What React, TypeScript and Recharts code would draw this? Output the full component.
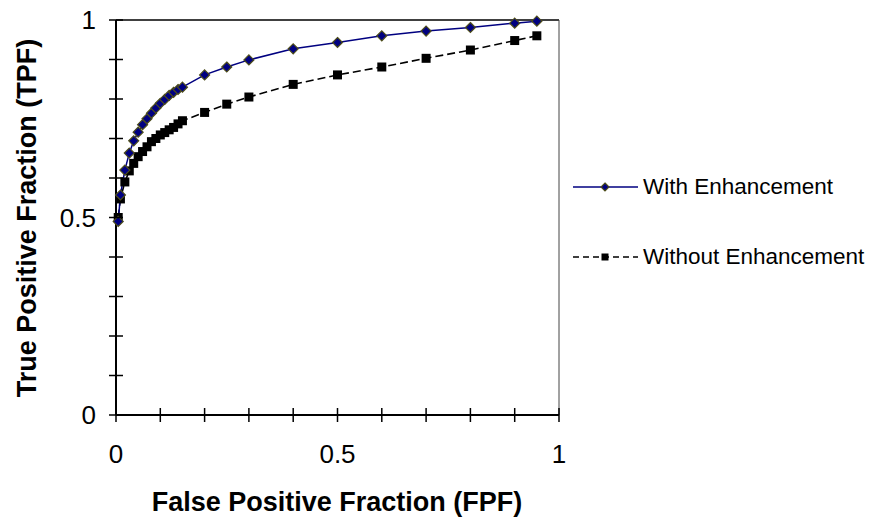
import { LineChart, Line, XAxis, YAxis, ReferenceLine } from "recharts";

// ROC points
const FPF = [
  0.005, 0.01, 0.02, 0.03, 0.04, 0.05, 0.06, 0.07, 0.08, 0.09, 0.1, 0.11, 0.12,
  0.13, 0.14, 0.15, 0.2, 0.25, 0.3, 0.4, 0.5, 0.6, 0.7, 0.8, 0.9, 0.95,
];
const TPF_WITH = [
  0.49, 0.557, 0.62, 0.663, 0.694, 0.716, 0.735, 0.75, 0.764, 0.777, 0.789,
  0.799, 0.809, 0.817, 0.824, 0.83, 0.861, 0.881, 0.899, 0.927, 0.943, 0.96,
  0.972, 0.981, 0.992, 0.997,
];
const TPF_WITHOUT = [
  0.5, 0.547, 0.59, 0.618, 0.637, 0.654, 0.667, 0.679, 0.692, 0.7, 0.709,
  0.715, 0.722, 0.728, 0.737, 0.745, 0.766, 0.787, 0.805, 0.837, 0.861, 0.881,
  0.903, 0.924, 0.948, 0.96,
];
const TICKS = [0, 0.1, 0.2, 0.3, 0.4, 0.5, 0.6, 0.7, 0.8, 0.9, 1];
const TICK_LABELS = [0, 0.5, 1];

const withData = FPF.map((x, i) => ({ x, y: TPF_WITH[i] }));
const withoutData = FPF.map((x, i) => ({ x, y: TPF_WITHOUT[i] }));

const FONT = "'Liberation Sans', Arial, sans-serif";
const NAVY = "#000080";

const Diamond = ({ cx, cy, r = 5 }: any) => (
  <path
    d={`M${cx},${cy - r}L${cx + r},${cy}L${cx},${cy + r}L${cx - r},${cy}Z`}
    fill={NAVY}
    stroke="#4d4d1a"
    strokeWidth={1.2}
  />
);

const Square = ({ cx, cy, s = 9 }: any) => (
  <rect x={cx - s / 2} y={cy - s / 2} width={s} height={s} fill="#000" />
);

const YTick = ({ x, y, payload }: any) => (
  <g>
    <line x1={x - 7} x2={x + 7} y1={y} y2={y} stroke="#000" strokeWidth={1.5} />
    {TICK_LABELS.includes(payload.value) && (
      <text x={x - 20} y={y} dy="0.36em" textAnchor="end" fontSize={26} fontFamily={FONT} fill="#000">
        {payload.value}
      </text>
    )}
  </g>
);

const XTick = ({ x, y, payload }: any) => (
  <g>
    <line x1={x} x2={x} y1={y - 7} y2={y + 7} stroke="#000" strokeWidth={1.5} />
    {TICK_LABELS.includes(payload.value) && (
      <text x={x} y={y + 48} textAnchor="middle" fontSize={26} fontFamily={FONT} fill="#000">
        {payload.value}
      </text>
    )}
  </g>
);

const LegendRow = ({ top, label, dashed }: { top: number; label: string; dashed?: boolean }) => (
  <div style={{ position: "absolute", left: 573, top: top - 12, height: 24, display: "flex", alignItems: "center" }}>
    <svg width={65} height={24}>
      <line
        x1={0}
        x2={65}
        y1={12}
        y2={12}
        stroke={dashed ? "#000" : NAVY}
        strokeWidth={1.5}
        strokeDasharray={dashed ? "6 4" : undefined}
      />
      {dashed ? <Square cx={32} cy={12} s={7} /> : <Diamond cx={32} cy={12} r={4} />}
    </svg>
    <span style={{ marginLeft: 5, fontSize: 22.5, lineHeight: 1, fontFamily: FONT, whiteSpace: "nowrap" }}>{label}</span>
  </div>
);

export default function App() {
  return (
    <div style={{ position: "absolute", left: 0, top: 0, width: 872, height: 521, background: "#fff" }}>
      <LineChart width={872} height={521} margin={{ top: 20, right: 313, bottom: 0, left: 0 }}>
        <XAxis
          type="number"
          dataKey="x"
          domain={[0, 1]}
          ticks={TICKS}
          interval={0}
          height={106}
          tickSize={0}
          tickMargin={0}
          tickLine={false}
          axisLine={{ stroke: "#000", strokeWidth: 2 }}
          tick={<XTick />}
        />
        <YAxis
          type="number"
          dataKey="y"
          domain={[0, 1]}
          ticks={TICKS}
          interval={0}
          width={116}
          tickSize={0}
          tickMargin={0}
          tickLine={false}
          axisLine={{ stroke: "#000", strokeWidth: 2 }}
          tick={<YTick />}
        />
        <ReferenceLine y={1} stroke="#000" strokeWidth={1.5} />
        <ReferenceLine x={1} stroke="#444" strokeWidth={1} />
        <Line
          data={withoutData}
          dataKey="y"
          name="Without Enhancement"
          stroke="#000"
          strokeWidth={1.6}
          strokeDasharray="8 4"
          dot={(p: any) => <Square key={`s${p.index}`} cx={p.cx} cy={p.cy} />}
          isAnimationActive={false}
        />
        <Line
          data={withData}
          dataKey="y"
          name="With Enhancement"
          stroke={NAVY}
          strokeWidth={1.5}
          dot={(p: any) => <Diamond key={`d${p.index}`} cx={p.cx} cy={p.cy} />}
          isAnimationActive={false}
        />
      </LineChart>
      <LegendRow top={187} label="With Enhancement" />
      <LegendRow top={257} label="Without Enhancement" dashed />
      <div
        style={{
          position: "absolute",
          left: 27,
          top: 218,
          transform: "translate(-50%, -50%) rotate(-90deg)",
          fontFamily: FONT,
          fontWeight: "bold",
          fontSize: 27,
          lineHeight: 1,
          whiteSpace: "nowrap",
        }}
      >
        True Positive Fraction (TPF)
      </div>
      <div
        style={{
          position: "absolute",
          left: 337,
          top: 502,
          transform: "translate(-50%, -50%)",
          fontFamily: FONT,
          fontWeight: "bold",
          fontSize: 27,
          lineHeight: 1,
          whiteSpace: "nowrap",
        }}
      >
        False Positive Fraction (FPF)
      </div>
    </div>
  );
}
